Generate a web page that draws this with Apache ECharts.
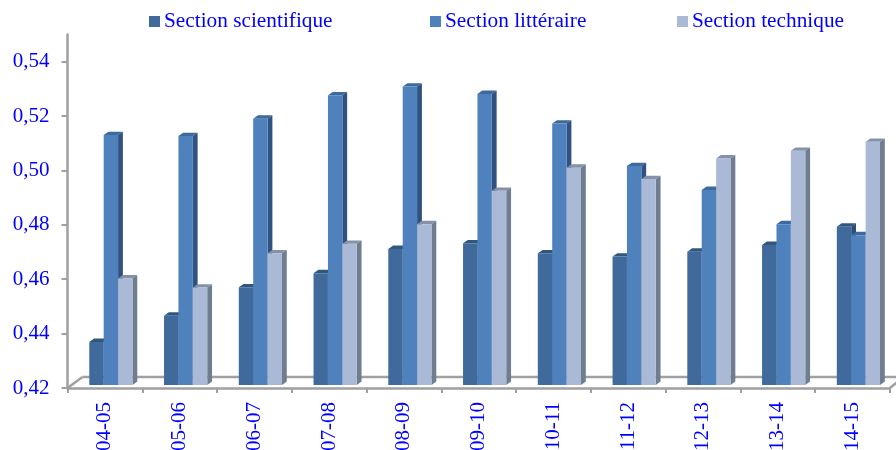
<!DOCTYPE html>
<html><head><meta charset="utf-8">
<style>html,body{margin:0;padding:0;background:#fff}#c{width:896px;height:450px}</style>
<script src="https://cdn.jsdelivr.net/npm/echarts@6/dist/echarts.min.js"></script>
</head><body><div id="c"></div>
<script>
const categories = ['04-05','05-06','06-07','07-08','08-09','09-10','10-11','11-12','12-13','13-14','14-15'];
const scientifique = [0.4358,0.4455,0.4559,0.4611,0.4700,0.4721,0.4684,0.4672,0.4690,0.4715,0.4782];
const litteraire = [0.5119,0.5115,0.5179,0.5265,0.5297,0.5270,0.5161,0.5005,0.4917,0.4791,0.4751];
const technique = [0.4592,0.4558,0.4684,0.4719,0.4791,0.4914,0.4999,0.4957,0.5033,0.5061,0.5094];
const names = ['Section scientifique','Section littéraire','Section technique'];
const yTicks = [0.42,0.44,0.46,0.48,0.50,0.52,0.54];

const palette = [
  {front:'#3F6A9B', top:'#32577F', side:'#2C4D75'},
  {front:'#4F81BD', top:'#3D6A9E', side:'#2F5280'},
  {front:'#AAB9D6', top:'#8491A8', side:'#6F7D90'}
];
const BW = 14.4, DX = 4.8, DY = 3.4, LIFT = 3, GROUP_SHIFT = -15.6;

function barRender(k){
  return function(params, api){
    const c = api.coord([api.value(0), api.value(1)]);
    const b = api.coord([api.value(0), 0.42]);
    const x = c[0] + GROUP_SHIFT + k*BW, y = c[1]-LIFT, y0 = b[1]-LIFT;
    const p = palette[k];
    return {type:'group', children:[
      {type:'polygon', shape:{points:[[x,y],[x+DX,y-DY],[x+BW+DX,y-DY],[x+BW,y]]}, style:{fill:p.top}},
      {type:'polygon', shape:{points:[[x+BW,y],[x+BW+DX,y-DY],[x+BW+DX,y0-DY],[x+BW,y0]]}, style:{fill:p.side}},
      {type:'rect', shape:{x:x,y:y,width:BW,height:y0-y}, style:{fill:p.front}}
    ]};
  };
}
function floorRender(params, api){
  if(params.dataIndex!==0) return null;
  const g = params.coordSys, l=g.x, r=g.x+g.width, b=g.y+g.height;
  const s = {stroke:'#A0A0A0', lineWidth:2.5, fill:null};
  return {type:'group', silent:true, children:[
    {type:'line', shape:{x1:l+15,y1:b-11,x2:896,y2:b-11}, style:s},
    {type:'line', shape:{x1:l,y1:b,x2:l+15,y2:b-11}, style:s},
    {type:'line', shape:{x1:r,y1:b,x2:r+10,y2:b-8}, style:s}
  ]};
}
const series = [
  {type:'custom', name:'floor', renderItem:floorRender, data:[[0,0.42]], encode:{x:0,y:1}, clip:false, silent:true, z:1},
];
[scientifique,litteraire,technique].forEach((vals,k)=>{
  series.push({type:'custom', name:names[k], renderItem:barRender(k),
    data:vals.map((v,i)=>[i,v]), encode:{x:0,y:1}, clip:false, z:2+k,
    itemStyle:{color:palette[k].front}});
});
const legendAt = [149,430,677];
const chart = echarts.init(document.getElementById('c'),null,{renderer:'canvas'});
chart.setOption({
  animation:false,
  backgroundColor:'#fff',
  legend: names.map((n,i)=>({data:[{name:n,icon:'rect'}], left:legendAt[i], top:11, padding:0, itemWidth:11, itemHeight:11,
    selectedMode:false, textStyle:{color:'#0000FF',fontFamily:'Liberation Serif',fontSize:21.3,padding:[0,0,0,-1]}})),
  grid:{left:67.5, right:896-889.8, top:34.4, bottom:62, containLabel:false, outerBoundsMode:'none'},
  xAxis:{type:'category', data:categories, boundaryGap:true,
    axisLine:{show:true,lineStyle:{color:'#A0A0A0',width:2.5}},
    axisTick:{show:true,alignWithLabel:false,length:5,lineStyle:{color:'#A0A0A0',width:2}},
    axisLabel:{rotate:90,interval:0,color:'#0000FF',fontFamily:'Liberation Serif',fontSize:21,margin:14}},
  yAxis:{type:'value', min:0.42, max:0.55,
    axisLine:{show:true,lineStyle:{color:'#A0A0A0',width:2.5}},
    axisTick:{show:true,length:6,customValues:yTicks,lineStyle:{color:'#A0A0A0',width:2}},
    splitLine:{show:false},
    axisLabel:{customValues:yTicks,color:'#0000FF',fontFamily:'Liberation Serif',fontSize:21,margin:18,padding:[3,0,0,0],
      formatter:v=>v.toFixed(2).replace('.',',')}},
  series
});
</script></body></html>
